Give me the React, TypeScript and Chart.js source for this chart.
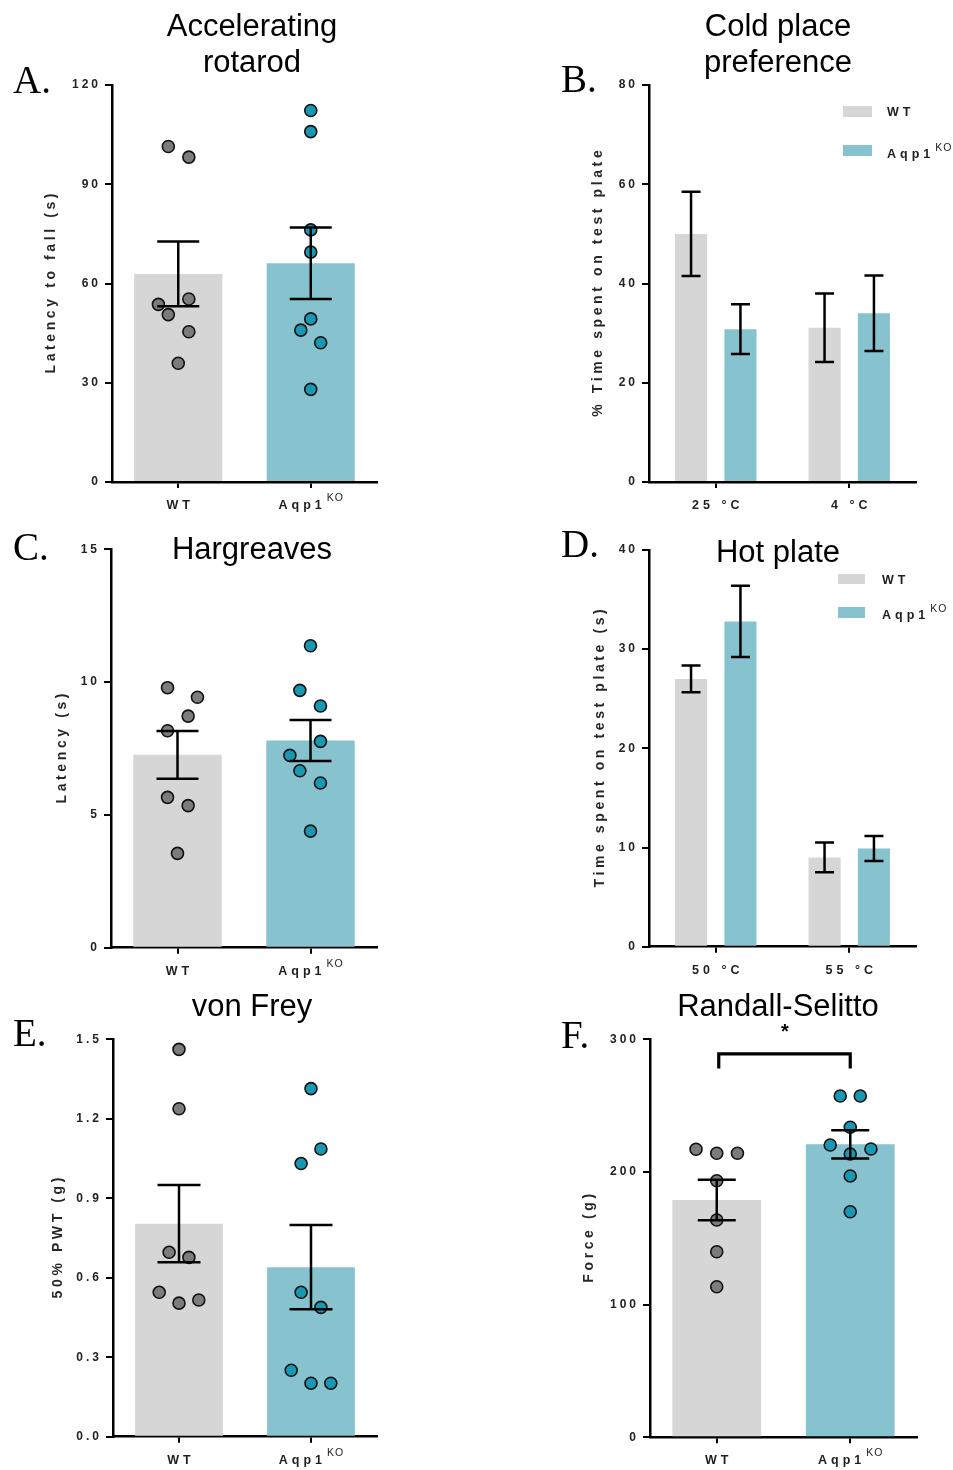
import React, { useEffect, useRef } from 'react';
import { Chart, registerables } from 'chart.js';
Chart.register(...registerables);

const SANS = '"Liberation Sans", Arial, sans-serif';
const SERIF = '"Liberation Serif", "Times New Roman", serif';

const WT_BAR = '#d6d6d6';
const KO_BAR = '#87c2cf';
const WT_DOT = '#7c7c7c';
const KO_DOT = '#1898b3';
const TEXT = '#1e1e1e';

// ---------- shared labels ----------
const groupLabels = ['WT', 'Aqp1'];
const groupSup = ['', 'KO'];

// ---------- A: Accelerating rotarod ----------
const rotarodMean = [62.9, 66.1];
const rotarodSem = [9.8, 10.8];
const rotarodWT = [101.4, 98.2, 53.7, 55.3, 50.6, 45.4, 35.9];
const rotarodWTJitter = [-0.075, 0.08, -0.15, 0.08, -0.075, 0.08, 0];
const rotarodKO = [112.3, 105.9, 76.2, 69.5, 49.3, 45.9, 42.1, 28.0];
const rotarodKOJitter = [0, 0, 0, 0, 0, -0.075, 0.075, 0];

// ---------- B: Cold place preference ----------
const coldLabels = ['25 °C', '4 °C'];
const coldWTMean = [50.0, 31.1];
const coldWTSem = [8.5, 6.9];
const coldKOMean = [30.8, 34.0];
const coldKOSem = [5.0, 7.6];

// ---------- C: Hargreaves ----------
const hargMean = [7.26, 7.8];
const hargSem = [0.9, 0.77];
const hargWT = [9.79, 9.43, 8.72, 8.17, 5.66, 5.35, 3.55];
const hargWTJitter = [-0.075, 0.15, 0.08, -0.075, -0.075, 0.08, 0];
const hargKO = [11.37, 9.69, 9.1, 7.77, 7.24, 6.66, 6.2, 4.39];
const hargKOJitter = [0, -0.08, 0.075, 0.075, -0.155, -0.08, 0.075, 0];

// ---------- D: Hot plate ----------
const hotLabels = ['50 °C', '55 °C'];
const hotWTMean = [27.0, 9.0];
const hotWTSem = [1.35, 1.5];
const hotKOMean = [32.8, 9.9];
const hotKOSem = [3.6, 1.25];

// ---------- E: von Frey ----------
const vfMean = [0.804, 0.64];
const vfSem = [0.146, 0.159];
const vfWT = [1.462, 1.238, 0.696, 0.677, 0.545, 0.504, 0.516];
const vfWTJitter = [0, 0, -0.075, 0.075, -0.15, 0, 0.15];
const vfKO = [1.314, 1.086, 1.031, 0.545, 0.488, 0.251, 0.202, 0.202];
const vfKOJitter = [0, 0.075, -0.075, -0.075, 0.075, -0.15, 0, 0.15];

// ---------- F: Randall-Selitto ----------
const rsMean = [178.9, 220.8];
const rsSem = [15.3, 10.7];
const rsWT = [217.1, 214.1, 214.1, 193.4, 163.8, 139.9, 113.5];
const rsWTJitter = [-0.155, 0, 0.155, 0, 0, 0, 0];
const rsKO = [257.3, 257.3, 233.7, 220.3, 217.3, 213.5, 197.0, 170.0];
const rsKOJitter = [-0.075, 0.075, 0, -0.15, 0.155, 0, 0, 0];
const rsBracket = { top: 289, bottom: 278 };

// ---------------------------------------------------------------
const toPoints = (vals: number[], jit: number[], idx: number) =>
  vals.map((v, i) => ({ x: idx + jit[i], y: v }));

type Box = { left: number; top: number; width: number; height: number };
type Area = { left: number; top: number; right: number; bottom: number };

type Spec = {
  canvas: Box;
  area: Area;
  yMax: number;
  yStep: number;
  yDecimals: number;
  yTitle: string;
  yTitleOffset: number;
  xLabels: string[];
  xSup: string[];
  capHalf: number;
  datasets: any[];
  bracket?: { top: number; bottom: number };
};

const X_FONT = `bold 12.5px ${SANS}`;
const X_SPACING = 4;
const SUP_FONT = `10.5px ${SANS}`;

const figurePlugin = {
  id: 'figure',
  beforeDraw(chart: any) {
    chart.ctx.letterSpacing = '3px';
  },
  afterDatasetsDraw(chart: any, _a: any, o: any) {
    const ctx = chart.ctx;
    const y = chart.scales.y;
    ctx.save();
    ctx.strokeStyle = '#000';
    ctx.lineWidth = 2.5;
    ctx.lineCap = 'butt';
    chart.data.datasets.forEach((ds: any, di: number) => {
      if (!ds.sem) return;
      const meta = chart.getDatasetMeta(di);
      meta.data.forEach((el: any, i: number) => {
        const m = ds.data[i];
        const s = ds.sem[i];
        const x = el.x;
        const t = y.getPixelForValue(m + s);
        const b = y.getPixelForValue(m - s);
        ctx.beginPath();
        ctx.moveTo(x, t);
        ctx.lineTo(x, b);
        ctx.moveTo(x - o.capHalf, t);
        ctx.lineTo(x + o.capHalf, t);
        ctx.moveTo(x - o.capHalf, b);
        ctx.lineTo(x + o.capHalf, b);
        ctx.stroke();
      });
    });
    if (o.bracket) {
      const xs = chart.scales.x;
      const x1 = xs.getPixelForTick(0) + 2;
      const x2 = xs.getPixelForTick(1);
      const yt = y.getPixelForValue(o.bracket.top);
      const yb = y.getPixelForValue(o.bracket.bottom);
      ctx.lineWidth = 3.2;
      ctx.lineJoin = 'miter';
      ctx.beginPath();
      ctx.moveTo(x1, yb);
      ctx.lineTo(x1, yt);
      ctx.lineTo(x2, yt);
      ctx.lineTo(x2, yb);
      ctx.stroke();
    }
    ctx.restore();
  },
  afterDraw(chart: any, _a: any, o: any) {
    const ctx = chart.ctx;
    const xs = chart.scales.x;
    const area = chart.chartArea;
    ctx.save();
    ctx.fillStyle = TEXT;
    ctx.textBaseline = 'alphabetic';
    ctx.textAlign = 'left';
    o.xLabels.forEach((lab: string, i: number) => {
      const sup = o.xSup[i];
      ctx.font = X_FONT;
      ctx.letterSpacing = X_SPACING + 'px';
      const wMain = ctx.measureText(lab).width - X_SPACING;
      let wSup = 0;
      if (sup) {
        ctx.font = SUP_FONT;
        ctx.letterSpacing = '1px';
        wSup = ctx.measureText(sup).width + 4;
      }
      const cx = xs.getPixelForTick(i);
      const x0 = cx - (wMain + wSup) / 2;
      ctx.font = X_FONT;
      ctx.letterSpacing = X_SPACING + 'px';
      ctx.fillText(lab, x0, area.bottom + 27);
      if (sup) {
        ctx.font = SUP_FONT;
        ctx.letterSpacing = '1px';
        ctx.fillText(sup, x0 + wMain + 5, area.bottom + 19);
      }
    });
    // y-axis title
    ctx.translate(area.left - o.yTitleOffset, (area.top + area.bottom) / 2);
    ctx.rotate(-Math.PI / 2);
    ctx.font = `bold 14px ${SANS}`;
    ctx.letterSpacing = '3.6px';
    ctx.textAlign = 'center';
    ctx.textBaseline = 'middle';
    ctx.fillStyle = '#262626';
    ctx.fillText(o.yTitle, 1.8, 0);
    ctx.restore();
  },
};

function buildConfig(spec: Spec): any {
  const { canvas: cv, area } = spec;
  const yAxisWidth = area.left - cv.left;
  const xAxisH = 30;
  return {
    type: 'bar',
    data: { labels: spec.xLabels, datasets: spec.datasets },
    plugins: [figurePlugin],
    options: {
      responsive: false,
      animation: false,
      events: [],
      layout: {
        padding: {
          left: 0,
          top: area.top - cv.top,
          right: cv.left + cv.width - area.right,
          bottom: cv.top + cv.height - area.bottom - xAxisH,
        },
      },
      plugins: {
        legend: { display: false },
        tooltip: { enabled: false },
        title: { display: false },
        figure: {
          yTitle: spec.yTitle,
          yTitleOffset: spec.yTitleOffset,
          xLabels: spec.xLabels,
          xSup: spec.xSup,
          capHalf: spec.capHalf,
          bracket: spec.bracket,
        },
      },
      scales: {
        x: {
          type: 'category',
          position: 'bottom',
          offset: true,
          grid: {
            display: true,
            drawOnChartArea: false,
            drawTicks: true,
            tickLength: 6,
            offset: false,
            color: '#000',
            lineWidth: 2,
          },
          border: { display: true, color: '#000', width: 2.5 },
          ticks: { display: false },
          afterFit: (s: any) => {
            s.height = xAxisH;
          },
        },
        xs: {
          type: 'linear',
          display: false,
          offset: false,
          grid: { offset: false },
          min: -0.5,
          max: 1.5,
        },
        y: {
          type: 'linear',
          position: 'left',
          min: 0,
          max: spec.yMax,
          grid: {
            display: true,
            drawOnChartArea: false,
            drawTicks: true,
            tickLength: 7,
            color: '#000',
            lineWidth: 2,
          },
          border: { display: true, color: '#000', width: 2.5 },
          ticks: {
            stepSize: spec.yStep,
            padding: 4,
            color: '#222',
            font: { family: SANS, size: 12, weight: 'bold' },
            callback: (v: number) => v.toFixed(spec.yDecimals),
          },
          afterFit: (s: any) => {
            s.width = yAxisWidth;
          },
        },
      },
    },
  };
}

const dotStyle = (color: string) => ({
  type: 'scatter',
  xAxisID: 'xs',
  yAxisID: 'y',
  backgroundColor: color,
  borderColor: '#111',
  borderWidth: 1.6,
  pointRadius: 6,
  order: 1,
});

const singleBars = (mean: number[], sem: number[]) => ({
  type: 'bar',
  xAxisID: 'x',
  yAxisID: 'y',
  data: mean,
  sem,
  grouped: false,
  backgroundColor: [WT_BAR, KO_BAR],
  barPercentage: 0.665,
  categoryPercentage: 1,
  order: 2,
});

const groupedBar = (mean: number[], sem: number[], color: string, label: string) => ({
  type: 'bar',
  label,
  xAxisID: 'x',
  yAxisID: 'y',
  data: mean,
  sem,
  backgroundColor: color,
  barPercentage: 0.65,
  categoryPercentage: 0.74,
  order: 2,
});

const specs: Spec[] = [
  {
    canvas: { left: 0, top: 0, width: 400, height: 520 },
    area: { left: 112, top: 85, right: 377, bottom: 482 },
    yMax: 120, yStep: 30, yDecimals: 0,
    yTitle: 'Latency to fall (s)', yTitleOffset: 61,
    xLabels: groupLabels, xSup: groupSup, capHalf: 21,
    datasets: [
      { ...dotStyle(WT_DOT), data: toPoints(rotarodWT, rotarodWTJitter, 0) },
      { ...dotStyle(KO_DOT), data: toPoints(rotarodKO, rotarodKOJitter, 1) },
      singleBars(rotarodMean, rotarodSem),
    ],
  },
  {
    canvas: { left: 540, top: 0, width: 413, height: 520 },
    area: { left: 649, top: 85, right: 916, bottom: 482 },
    yMax: 80, yStep: 20, yDecimals: 0,
    yTitle: '% Time spent on test plate', yTitleOffset: 51,
    xLabels: coldLabels, xSup: ['', ''], capHalf: 9.5,
    datasets: [
      groupedBar(coldWTMean, coldWTSem, WT_BAR, groupLabels[0]),
      groupedBar(coldKOMean, coldKOSem, KO_BAR, groupLabels[1]),
    ],
  },
  {
    canvas: { left: 0, top: 520, width: 400, height: 470 },
    area: { left: 111, top: 549.3, right: 377, bottom: 947.7 },
    yMax: 15, yStep: 5, yDecimals: 0,
    yTitle: 'Latency (s)', yTitleOffset: 49,
    xLabels: groupLabels, xSup: groupSup, capHalf: 21,
    datasets: [
      { ...dotStyle(WT_DOT), data: toPoints(hargWT, hargWTJitter, 0) },
      { ...dotStyle(KO_DOT), data: toPoints(hargKO, hargKOJitter, 1) },
      singleBars(hargMean, hargSem),
    ],
  },
  {
    canvas: { left: 540, top: 520, width: 413, height: 470 },
    area: { left: 649, top: 550, right: 916, bottom: 946.7 },
    yMax: 40, yStep: 10, yDecimals: 0,
    yTitle: 'Time spent on test plate (s)', yTitleOffset: 49,
    xLabels: hotLabels, xSup: ['', ''], capHalf: 9.5,
    datasets: [
      groupedBar(hotWTMean, hotWTSem, WT_BAR, groupLabels[0]),
      groupedBar(hotKOMean, hotKOSem, KO_BAR, groupLabels[1]),
    ],
  },
  {
    canvas: { left: 0, top: 990, width: 400, height: 480 },
    area: { left: 113, top: 1039.3, right: 377, bottom: 1436.7 },
    yMax: 1.5, yStep: 0.3, yDecimals: 1,
    yTitle: '50% PWT (g)', yTitleOffset: 55,
    xLabels: groupLabels, xSup: groupSup, capHalf: 21.5,
    datasets: [
      { ...dotStyle(WT_DOT), data: toPoints(vfWT, vfWTJitter, 0) },
      { ...dotStyle(KO_DOT), data: toPoints(vfKO, vfKOJitter, 1) },
      singleBars(vfMean, vfSem),
    ],
  },
  {
    canvas: { left: 540, top: 990, width: 413, height: 480 },
    area: { left: 650, top: 1039.3, right: 917, bottom: 1437.3 },
    yMax: 300, yStep: 100, yDecimals: 0,
    yTitle: 'Force (g)', yTitleOffset: 61,
    xLabels: groupLabels, xSup: groupSup, capHalf: 19,
    bracket: rsBracket,
    datasets: [
      { ...dotStyle(WT_DOT), data: toPoints(rsWT, rsWTJitter, 0) },
      { ...dotStyle(KO_DOT), data: toPoints(rsKO, rsKOJitter, 1) },
      singleBars(rsMean, rsSem),
    ],
  },
];

function ChartCanvas({ spec }: { spec: Spec }) {
  const ref = useRef<HTMLCanvasElement>(null);
  useEffect(() => {
    const chart = new Chart(ref.current as HTMLCanvasElement, buildConfig(spec));
    return () => chart.destroy();
  }, []);
  const c = spec.canvas;
  return (
    <canvas
      ref={ref}
      width={c.width}
      height={c.height}
      style={{ position: 'absolute', left: c.left, top: c.top, width: c.width, height: c.height, display: 'block' }}
    />
  );
}

function Txt(props: {
  x: number; base: number; size: number; family?: string; weight?: string;
  align?: 'center' | 'left'; spacing?: number; color?: string; children: React.ReactNode;
}) {
  const family = props.family || SANS;
  const serif = family === SERIF;
  const asc = serif ? 0.891 : 0.905;
  const lh = serif ? 1.107 : 1.117;
  const style: React.CSSProperties = {
    position: 'absolute',
    top: props.base - asc * props.size,
    fontFamily: family,
    fontSize: props.size,
    fontWeight: (props.weight || 'normal') as any,
    lineHeight: lh,
    letterSpacing: props.spacing || 0,
    color: props.color || '#000',
    whiteSpace: 'nowrap',
  };
  if ((props.align || 'center') === 'center') {
    style.left = props.x - 300;
    style.width = 600;
    style.textAlign = 'center';
  } else {
    style.left = props.x;
  }
  return <div style={style}>{props.children}</div>;
}

const Sup = ({ text }: { text: string }) => (
  <span style={{ fontSize: 10.5, fontWeight: 'normal', letterSpacing: 1, position: 'relative', top: -7, marginLeft: 1 }}>{text}</span>
);

function Swatch({ left, top, w, h, color }: { left: number; top: number; w: number; h: number; color: string }) {
  return <div style={{ position: 'absolute', left, top, width: w, height: h, background: color }} />;
}

export default function App() {
  useEffect(() => {
    document.body.style.margin = '0';
  }, []);
  return (
    <div style={{ position: 'absolute', left: 0, top: 0, width: 953, height: 1470, background: '#fff', overflow: 'hidden' }}>
      {specs.map((s, i) => (
        <ChartCanvas key={i} spec={s} />
      ))}

      {/* panel letters */}
      <Txt x={13} base={93} size={39} family={SERIF} align="left">A.</Txt>
      <Txt x={561} base={92} size={39} family={SERIF} align="left">B.</Txt>
      <Txt x={13} base={560} size={39} family={SERIF} align="left">C.</Txt>
      <Txt x={561} base={557} size={39} family={SERIF} align="left">D.</Txt>
      <Txt x={13} base={1046} size={39} family={SERIF} align="left">E.</Txt>
      <Txt x={561} base={1048} size={39} family={SERIF} align="left">F.</Txt>

      {/* titles */}
      <Txt x={252} base={37} size={31}>Accelerating</Txt>
      <Txt x={252} base={73} size={31}>rotarod</Txt>
      <Txt x={778} base={37} size={31}>Cold place</Txt>
      <Txt x={778} base={73} size={31}>preference</Txt>
      <Txt x={252} base={560} size={31}>Hargreaves</Txt>
      <Txt x={778} base={563} size={31}>Hot plate</Txt>
      <Txt x={252} base={1017} size={31}>von Frey</Txt>
      <Txt x={778} base={1017} size={31}>Randall-Selitto</Txt>
      <Txt x={785} base={1038} size={20} weight="bold">*</Txt>

      {/* legend B */}
      <Swatch left={843} top={106} w={29} h={11} color={WT_BAR} />
      <Swatch left={843} top={145} w={29} h={11} color={KO_BAR} />
      <Txt x={887} base={117} size={12.5} weight="bold" spacing={4} align="left" color={TEXT}>{groupLabels[0]}</Txt>
      <Txt x={887} base={159} size={12.5} weight="bold" spacing={4} align="left" color={TEXT}>
        {groupLabels[1]}<Sup text={groupSup[1]} />
      </Txt>

      {/* legend D */}
      <Swatch left={838} top={574} w={27} h={10} color={WT_BAR} />
      <Swatch left={838} top={607} w={27} h={11} color={KO_BAR} />
      <Txt x={882} base={585} size={12.5} weight="bold" spacing={4} align="left" color={TEXT}>{groupLabels[0]}</Txt>
      <Txt x={882} base={620} size={12.5} weight="bold" spacing={4} align="left" color={TEXT}>
        {groupLabels[1]}<Sup text={groupSup[1]} />
      </Txt>
    </div>
  );
}
